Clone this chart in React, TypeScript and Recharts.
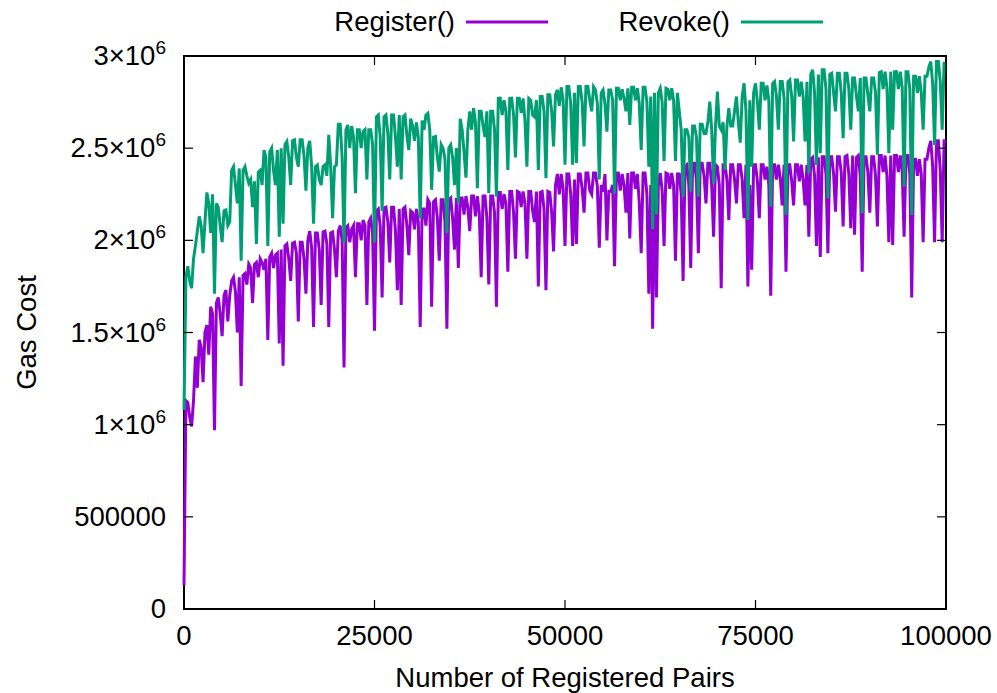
import React from 'react';
import { LineChart, Line, XAxis, YAxis, Legend, Label, ReferenceArea } from 'recharts';

// Number of registered pairs (x), sampled every 250
const pairs = [
  0, 250, 500, 750, 1000, 1250, 1500, 1750, 2000, 2250, 2500, 2750, 3000, 3250, 3500, 3750, 4000, 4250, 4500, 4750,
  5000, 5250, 5500, 5750, 6000, 6250, 6500, 6750, 7000, 7250, 7500, 7750, 8000, 8250, 8500, 8750, 9000, 9250, 9500, 9750,
  10000, 10250, 10500, 10750, 11000, 11250, 11500, 11750, 12000, 12250, 12500, 12750, 13000, 13250, 13500, 13750, 14000, 14250, 14500, 14750,
  15000, 15250, 15500, 15750, 16000, 16250, 16500, 16750, 17000, 17250, 17500, 17750, 18000, 18250, 18500, 18750, 19000, 19250, 19500, 19750,
  20000, 20250, 20500, 20750, 21000, 21250, 21500, 21750, 22000, 22250, 22500, 22750, 23000, 23250, 23500, 23750, 24000, 24250, 24500, 24750,
  25000, 25250, 25500, 25750, 26000, 26250, 26500, 26750, 27000, 27250, 27500, 27750, 28000, 28250, 28500, 28750, 29000, 29250, 29500, 29750,
  30000, 30250, 30500, 30750, 31000, 31250, 31500, 31750, 32000, 32250, 32500, 32750, 33000, 33250, 33500, 33750, 34000, 34250, 34500, 34750,
  35000, 35250, 35500, 35750, 36000, 36250, 36500, 36750, 37000, 37250, 37500, 37750, 38000, 38250, 38500, 38750, 39000, 39250, 39500, 39750,
  40000, 40250, 40500, 40750, 41000, 41250, 41500, 41750, 42000, 42250, 42500, 42750, 43000, 43250, 43500, 43750, 44000, 44250, 44500, 44750,
  45000, 45250, 45500, 45750, 46000, 46250, 46500, 46750, 47000, 47250, 47500, 47750, 48000, 48250, 48500, 48750, 49000, 49250, 49500, 49750,
  50000, 50250, 50500, 50750, 51000, 51250, 51500, 51750, 52000, 52250, 52500, 52750, 53000, 53250, 53500, 53750, 54000, 54250, 54500, 54750,
  55000, 55250, 55500, 55750, 56000, 56250, 56500, 56750, 57000, 57250, 57500, 57750, 58000, 58250, 58500, 58750, 59000, 59250, 59500, 59750,
  60000, 60250, 60500, 60750, 61000, 61250, 61500, 61750, 62000, 62250, 62500, 62750, 63000, 63250, 63500, 63750, 64000, 64250, 64500, 64750,
  65000, 65250, 65500, 65750, 66000, 66250, 66500, 66750, 67000, 67250, 67500, 67750, 68000, 68250, 68500, 68750, 69000, 69250, 69500, 69750,
  70000, 70250, 70500, 70750, 71000, 71250, 71500, 71750, 72000, 72250, 72500, 72750, 73000, 73250, 73500, 73750, 74000, 74250, 74500, 74750,
  75000, 75250, 75500, 75750, 76000, 76250, 76500, 76750, 77000, 77250, 77500, 77750, 78000, 78250, 78500, 78750, 79000, 79250, 79500, 79750,
  80000, 80250, 80500, 80750, 81000, 81250, 81500, 81750, 82000, 82250, 82500, 82750, 83000, 83250, 83500, 83750, 84000, 84250, 84500, 84750,
  85000, 85250, 85500, 85750, 86000, 86250, 86500, 86750, 87000, 87250, 87500, 87750, 88000, 88250, 88500, 88750, 89000, 89250, 89500, 89750,
  90000, 90250, 90500, 90750, 91000, 91250, 91500, 91750, 92000, 92250, 92500, 92750, 93000, 93250, 93500, 93750, 94000, 94250, 94500, 94750,
  95000, 95250, 95500, 95750, 96000, 96250, 96500, 96750, 97000, 97250, 97500, 97750, 98000, 98250, 98500, 98750, 99000, 99250, 99500, 99750,
  100000,
];

// gas cost, in thousands
const registerGas = [
  130, 1130, 1120, 1040, 990, 1130, 1370, 1200, 1460, 1420, 1230, 1500, 1540, 1380, 1640, 1600, 970, 1660, 1690, 1600,
  1480, 1700, 1730, 1560, 1700, 1780, 1800, 1720, 1500, 1800, 1210, 1810, 1820, 1760, 1870, 1850, 1660, 1870, 1880, 1800,
  1900, 1880, 1840, 1900, 1460, 1910, 1930, 1850, 1920, 1930, 1440, 1950, 1320, 1970, 1980, 1900, 1780, 1985, 1990, 1930,
  1560, 1990, 1990, 1900, 1710, 2000, 2050, 1960, 1530, 2040, 2040, 1950, 1650, 2045, 2050, 1980, 1530, 2040, 2045, 1950,
  1800, 2050, 2080, 2000, 1310, 2070, 2080, 1990, 2060, 2080, 1800, 2090, 2090, 2000, 2110, 2080, 1650, 2100, 2120, 2040,
  1510, 2160, 2170, 2080, 1690, 2175, 2180, 2100, 1880, 2180, 2180, 2050, 1730, 2170, 1650, 2170, 2180, 2080, 1920, 2160,
  2150, 2060, 2170, 2100, 1530, 2170, 2170, 2080, 2220, 2200, 1640, 2210, 2220, 2120, 1890, 2220, 2220, 2100, 1520, 2220,
  2230, 2120, 1950, 2230, 1850, 2230, 2230, 2140, 2240, 2180, 2050, 2240, 2240, 2130, 2240, 2150, 1800, 2240, 2240, 2120,
  1760, 2240, 2240, 2150, 1640, 2260, 2260, 2170, 2250, 2200, 1830, 2265, 2265, 2150, 1900, 2265, 2260, 2180, 2265, 2200,
  1900, 2265, 2265, 2160, 2100, 2265, 1750, 2260, 2265, 2170, 1730, 2265, 2260, 2150, 1940, 2300, 2360, 2250, 2360, 2280,
  1970, 2360, 2360, 2250, 1970, 2330, 1980, 2360, 2360, 2280, 2150, 2365, 2365, 2270, 2250, 2365, 2365, 2290, 1960, 2300,
  2265, 2360, 2000, 2265, 2265, 2300, 1860, 2365, 2365, 2270, 2360, 2300, 2150, 2365, 2010, 2365, 2365, 2280, 2360, 2200,
  1930, 2365, 2365, 2250, 1710, 2300, 1520, 2360, 1690, 2300, 2365, 2270, 1970, 2365, 2360, 2280, 2365, 2300, 1890, 2360,
  2360, 2250, 1780, 2400, 2410, 2300, 1850, 2418, 2418, 2330, 1930, 2418, 2418, 2350, 2200, 2418, 2418, 2300, 2020, 2410,
  2400, 2300, 1740, 2410, 2410, 2330, 2110, 2410, 2410, 2330, 2200, 2410, 2410, 2330, 2120, 2410, 1750, 2300, 1840, 2410,
  2410, 2320, 2120, 2410, 2410, 2330, 2400, 2300, 1700, 2410, 2410, 2330, 2410, 2340, 2190, 2410, 1830, 2410, 2410, 2320,
  2190, 2410, 2410, 2320, 2410, 2330, 2190, 2410, 2020, 2440, 2450, 2350, 1970, 2450, 1910, 2454, 2454, 2360, 1930, 2454,
  2454, 2360, 2156, 2454, 2454, 2370, 2075, 2454, 2460, 2360, 2066, 2460, 2030, 2450, 2460, 2350, 1830, 2454, 2454, 2370,
  2150, 2454, 2454, 2350, 2075, 2460, 2460, 2370, 2460, 2350, 1990, 2460, 1975, 2460, 2460, 2370, 2460, 2380, 2020, 2460,
  2460, 2360, 1690, 2440, 2440, 2350, 2440, 2360, 1990, 2440, 2440, 2500, 2540, 2400, 1990, 2540, 2540, 2380, 1990, 2540,
  2540,
];

const revokeGas = [
  1080, 1800, 1860, 1780, 1740, 1900, 1970, 2050, 2130, 2080, 1930, 2100, 2260, 2200, 2040, 2250, 1710, 2200, 2180, 2080,
  1990, 2160, 2165, 2080, 2100, 2380, 2400, 2300, 2200, 2390, 1890, 2380, 2400, 2350, 2310, 2330, 2180, 2320, 1980, 2370,
  2380, 2300, 2490, 2450, 1970, 2480, 2500, 2380, 2300, 2490, 2020, 2500, 2090, 2520, 2536, 2450, 2300, 2540, 2545, 2450,
  2400, 2545, 2545, 2460, 2270, 2500, 2540, 2400, 2090, 2400, 2409, 2330, 2300, 2400, 2409, 2350, 2572, 2400, 2120, 2400,
  2409, 2630, 2630, 2450, 1985, 2600, 2626, 2500, 2620, 2560, 2256, 2600, 2600, 2500, 2590, 2600, 2330, 2600, 2600, 2520,
  1990, 2670, 2680, 2560, 2160, 2670, 2680, 2580, 2330, 2680, 2680, 2560, 2400, 2680, 2330, 2670, 2680, 2570, 2490, 2660,
  2620, 2540, 2640, 2560, 2120, 2650, 2600, 2680, 2689, 2600, 2274, 2560, 2563, 2450, 2373, 2520, 2500, 2440, 2040, 2500,
  2518, 2450, 2300, 2500, 2200, 2660, 2600, 2480, 2340, 2600, 2700, 2600, 2717, 2640, 2283, 2700, 2700, 2620, 2560, 2700,
  2256, 2700, 2700, 2600, 2237, 2770, 2771, 2680, 2760, 2700, 2382, 2770, 2771, 2680, 2450, 2771, 2771, 2690, 2770, 2650,
  2400, 2770, 2760, 2680, 2670, 2760, 2382, 2780, 2780, 2700, 2337, 2790, 2790, 2700, 2510, 2790, 2816, 2730, 2830, 2760,
  2410, 2834, 2834, 2740, 2410, 2800, 2420, 2834, 2834, 2750, 2510, 2834, 2834, 2760, 2700, 2834, 2816, 2740, 2330, 2800,
  2816, 2740, 2590, 2816, 2816, 2760, 2256, 2825, 2825, 2760, 2820, 2770, 2700, 2825, 2626, 2830, 2830, 2760, 2825, 2740,
  2490, 2830, 2830, 2750, 2400, 2780, 2060, 2800, 2140, 2800, 2825, 2750, 2430, 2825, 2820, 2760, 2825, 2760, 2430, 2800,
  2700, 2600, 2237, 2600, 2600, 2560, 2265, 2620, 2620, 2560, 2237, 2630, 2630, 2580, 2580, 2640, 2753, 2600, 2310, 2620,
  2807, 2620, 2600, 2640, 2382, 2620, 2717, 2620, 2620, 2700, 2780, 2640, 2530, 2780, 2852, 2700, 2111, 2760, 2400, 2800,
  2852, 2750, 2600, 2852, 2852, 2760, 2840, 2760, 2183, 2850, 2861, 2780, 2600, 2861, 2861, 2770, 2138, 2860, 2870, 2780,
  2536, 2870, 2870, 2780, 2860, 2780, 2536, 2860, 2364, 2900, 2925, 2800, 2409, 2900, 2472, 2925, 2925, 2820, 2228, 2900,
  2906, 2800, 2700, 2906, 2906, 2800, 2554, 2906, 2906, 2820, 2600, 2880, 2880, 2780, 2700, 2880, 2147, 2880, 2880, 2790,
  2700, 2880, 2880, 2800, 2464, 2910, 2915, 2820, 2915, 2830, 2472, 2915, 2600, 2915, 2915, 2820, 2915, 2830, 2292, 2915,
  2915, 2820, 2138, 2890, 2890, 2800, 2890, 2800, 2600, 2890, 2890, 2940, 2970, 2850, 2518, 2970, 2970, 2860, 2600, 2960,
  2960,
];

const xTicks = [0, 25000, 50000, 75000, 100000];
const yTicks = [0, 500, 1000, 1500, 2000, 2500, 3000];

const data = pairs.map((p, i) => ({ pairs: p, register: registerGas[i], revoke: revokeGas[i] }));

const W = 997;
const H = 693;
const PL = 184; // plot left
const PR = 946; // plot right
const PT = 56; // plot top
const PB = 609; // plot bottom
const KEY_H = 45;
const FONT = '"Liberation Sans", Arial, Helvetica, sans-serif';
const FS = 27.5;
const TICK = 9;

const YTick = (props: any) => {
  const { y, payload } = props;
  const v = payload.value;
  let label: React.ReactNode;
  if (v === 0) label = '0';
  else if (v === 500) label = '500000';
  else
    label = (
      <>
        {`${v / 1000}×10`}
        <tspan dy={-11} fontSize={19}>6</tspan>
      </>
    );
  return (
    <g>
      <line x1={PL} x2={PL + TICK} y1={y} y2={y} stroke="#000" strokeWidth={1.2} />
      <line x1={PR} x2={PR - TICK} y1={y} y2={y} stroke="#000" strokeWidth={1.2} />
      <text x={166} y={y + 9} textAnchor="end" fontSize={FS} fontFamily={FONT} fill="#000">
        {label}
      </text>
    </g>
  );
};

const XTick = (props: any) => {
  const { x, payload } = props;
  return (
    <g>
      <line x1={x} x2={x} y1={PB} y2={PB - TICK} stroke="#000" strokeWidth={1.2} />
      <line x1={x} x2={x} y1={PT} y2={PT + TICK} stroke="#000" strokeWidth={1.2} />
      <text x={x} y={PB + 36} textAnchor="middle" fontSize={FS} fontFamily={FONT} fill="#000">
        {payload.value}
      </text>
    </g>
  );
};

const KeyContent = (props: any) => {
  const items = props.payload || [];
  const textEnds = [455, 730];
  return (
    <svg width={W} height={KEY_H} style={{ display: 'block' }}>
      {items.map((it: any, i: number) => (
        <g key={it.value}>
          <text x={textEnds[i]} y={31} textAnchor="end" fontSize={FS} fontFamily={FONT} fill="#000">
            {it.value}
          </text>
          <line x1={textEnds[i] + 11} x2={textEnds[i] + 93} y1={22} y2={22} stroke={it.color} strokeWidth={3} />
        </g>
      ))}
    </svg>
  );
};

export default function App() {
  return (
    <div style={{ position: 'absolute', left: 0, top: 0, width: W, height: H, background: '#fff' }}>
      <LineChart width={W} height={H} data={data} margin={{ top: PT - KEY_H, right: W - PR, bottom: 0, left: 0 }}>
        <XAxis
          xAxisId="b"
          dataKey="pairs"
          type="number"
          domain={[0, 100000]}
          ticks={xTicks}
          interval={0}
          height={H - PB}
          tickLine={false}
          axisLine={false}
          tick={<XTick />}
        >
          <Label
            content={() => (
              <text x={(PL + PR) / 2} y={687} textAnchor="middle" fontSize={FS} fontFamily={FONT} fill="#000">
                Number of Registered Pairs
              </text>
            )}
          />
        </XAxis>
        <YAxis
          yAxisId="l"
          domain={[0, 3000]}
          ticks={yTicks}
          interval={0}
          width={PL}
          tickLine={false}
          axisLine={false}
          tick={<YTick />}
        >
          <Label
            content={() => (
              <text
                x={36}
                y={(PT + PB) / 2}
                transform={`rotate(-90 36 ${(PT + PB) / 2})`}
                textAnchor="middle"
                fontSize={FS}
                fontFamily={FONT}
                fill="#000"
              >
                Gas Cost
              </text>
            )}
          />
        </YAxis>
        <Legend verticalAlign="top" align="left" wrapperStyle={{ top: 0, left: 0 }} content={<KeyContent />} />
        <Line
          xAxisId="b"
          yAxisId="l"
          type="linear"
          dataKey="register"
          name="Register()"
          stroke="#9400d3"
          strokeWidth={3}
          dot={false}
          isAnimationActive={false}
        />
        <Line
          xAxisId="b"
          yAxisId="l"
          type="linear"
          dataKey="revoke"
          name="Revoke()"
          stroke="#009e73"
          strokeWidth={3}
          dot={false}
          isAnimationActive={false}
        />
        <ReferenceArea
          xAxisId="b"
          yAxisId="l"
          x1={0}
          x2={100000}
          y1={0}
          y2={3000}
          fill="none"
          stroke="#000"
          strokeWidth={2}
          ifOverflow="visible"
        />
      </LineChart>
    </div>
  );
}
